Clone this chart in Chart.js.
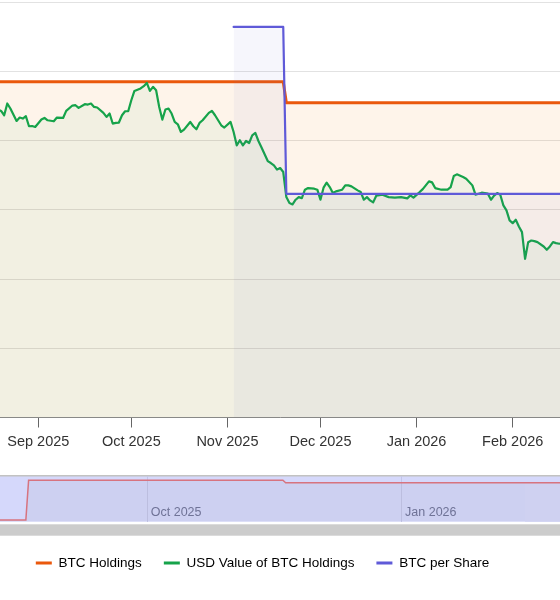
<!DOCTYPE html>
<html>
<head>
    <title>BTC Holdings</title>
    <style>
        body {
            margin: 0;
            background-color: #fff;
            font-family: 'Liberation Sans', Arial, sans-serif;
        }

        #page {
            position: relative;
            width: 560px;
            height: 600px;
            overflow: hidden;
        }

        #main-container {
            position: absolute;
            left: 0;
            top: 0;
            width: 560px;
            height: 460px;
        }

        #nav-container {
            position: absolute;
            left: 0;
            top: 468px;
            width: 560px;
            height: 132px;
        }
    </style>
</head>
<body>
    <div id="page">
        <div id="main-container"><canvas id="mainChart"></canvas></div>
        <div id="nav-container"><canvas id="navChart"></canvas></div>
    </div>

    <script src="https://cdn.jsdelivr.net/npm/chart.js@4"></script>
    <script>
const monthTicks = ['2025-09-01', '2025-10-01', '2025-11-01', '2025-12-01', '2026-01-01', '2026-02-01'];
const monthLabels = ['Sep 2025', 'Oct 2025', 'Nov 2025', 'Dec 2025', 'Jan 2026', 'Feb 2026'];
const navTicks = ['2025-10-01', '2026-01-01'];
const navLabels = ['Oct 2025', 'Jan 2026'];

const seriesNames = ['BTC Holdings', 'USD Value of BTC Holdings', 'BTC per Share'];

// BTC held by the treasury
const holdingDates = ['2025-08-01', '2025-08-18', '2025-08-19', '2025-11-19', '2025-11-20', '2026-02-28'];
const holdingValues = [0, 0, 4847, 4847, 4546, 4546];

// USD value of the holdings, millions
const usdDates = [
  '2025-08-19', '2025-08-20', '2025-08-21', '2025-08-22', '2025-08-23', '2025-08-25', '2025-08-26', '2025-08-27',
  '2025-08-28', '2025-08-29', '2025-08-30', '2025-08-31',
  '2025-09-02', '2025-09-03', '2025-09-04', '2025-09-06', '2025-09-07', '2025-09-09', '2025-09-10', '2025-09-12',
  '2025-09-13', '2025-09-14', '2025-09-16', '2025-09-17', '2025-09-18', '2025-09-19', '2025-09-20', '2025-09-22',
  '2025-09-23', '2025-09-24', '2025-09-25', '2025-09-26', '2025-09-27', '2025-09-28', '2025-09-29', '2025-09-30',
  '2025-10-01', '2025-10-02', '2025-10-04', '2025-10-05', '2025-10-06', '2025-10-07', '2025-10-08', '2025-10-09',
  '2025-10-10', '2025-10-11', '2025-10-12', '2025-10-13', '2025-10-14', '2025-10-15', '2025-10-16', '2025-10-17',
  '2025-10-18', '2025-10-20', '2025-10-21', '2025-10-22', '2025-10-23', '2025-10-24', '2025-10-26', '2025-10-27',
  '2025-10-28', '2025-10-30', '2025-10-31',
  '2025-11-02', '2025-11-03', '2025-11-04', '2025-11-05', '2025-11-06', '2025-11-07', '2025-11-08', '2025-11-09',
  '2025-11-10', '2025-11-11', '2025-11-12', '2025-11-14', '2025-11-15', '2025-11-16', '2025-11-17', '2025-11-18',
  '2025-11-19', '2025-11-20', '2025-11-21', '2025-11-22', '2025-11-23', '2025-11-24', '2025-11-25', '2025-11-26',
  '2025-11-27', '2025-11-29', '2025-11-30',
  '2025-12-01', '2025-12-02', '2025-12-03', '2025-12-04', '2025-12-05', '2025-12-06', '2025-12-08', '2025-12-09',
  '2025-12-10', '2025-12-11', '2025-12-12', '2025-12-13', '2025-12-14', '2025-12-15', '2025-12-16', '2025-12-17',
  '2025-12-18', '2025-12-19', '2025-12-21', '2025-12-23', '2025-12-25', '2025-12-27', '2025-12-29', '2025-12-30',
  '2025-12-31',
  '2026-01-02', '2026-01-03', '2026-01-05', '2026-01-06', '2026-01-07', '2026-01-09', '2026-01-11', '2026-01-12',
  '2026-01-13', '2026-01-14', '2026-01-16', '2026-01-17', '2026-01-19', '2026-01-20', '2026-01-22', '2026-01-23',
  '2026-01-24', '2026-01-25', '2026-01-26', '2026-01-27', '2026-01-28', '2026-01-29', '2026-01-30', '2026-01-31',
  '2026-02-01', '2026-02-02', '2026-02-03', '2026-02-04', '2026-02-05', '2026-02-06', '2026-02-07', '2026-02-08',
  '2026-02-09', '2026-02-11', '2026-02-12', '2026-02-13', '2026-02-14', '2026-02-15', '2026-02-16', '2026-02-17'
];
const usdValues = [
  556.0, 553.4, 545.6, 566.8, 557.7, 535.3, 541.4, 539.6,
  543.8, 525.7, 526.2, 524.4,
  537.8, 540.7, 536.5, 534.7, 541.4, 540.7, 553.4, 563.1,
  563.7, 558.8, 565.5, 564.9, 566.8, 560.6, 559.5, 549.8,
  542.5, 548.7, 530.6, 531.7, 532.4, 545.6, 552.8, 552.8,
  572.7, 589.5, 593.9, 598.0, 604.0, 589.5, 596.8, 590.8,
  560.6, 537.8, 555.9, 557.7, 548.7, 533.5, 529.3, 515.4,
  519.7, 533.5, 525.7, 520.3, 531.7, 536.5, 549.8, 553.4,
  545.6, 527.5, 523.4,
  533.5, 515.4, 491.3, 500.4, 491.3, 499.1, 495.5, 509.4,
  513.6, 499.1, 487.2, 462.9, 459.3, 455.2, 447.4, 450.3,
  443.1, 397.8, 387.0, 384.6, 393.1, 397.8, 396.0, 411.2,
  414.1, 413.0, 411.2,
  393.1, 414.8, 423.9, 415.9, 405.1, 408.2, 411.2, 419.0,
  419.0, 417.2, 413.6, 410.0, 406.9, 393.1, 397.8, 391.9,
  388.3, 400.4, 402.2, 397.8, 396.8, 397.8, 395.5, 400.9,
  396.8,
  406.9, 412.3, 426.2, 424.4, 414.1, 411.2, 411.2, 415.9,
  435.8, 438.9, 434.0, 431.1, 419.0, 402.2, 405.8, 405.1,
  404.0, 393.1, 400.4, 405.1, 402.2, 382.8, 373.8, 355.7,
  350.8, 357.0, 344.9, 334.6, 286.4, 316.5, 319.5, 318.3,
  316.5, 308.7, 302.7, 308.7, 316.5, 314.7, 313.6, 314.1
];

// BTC per share
const perShareDates = ['2025-11-03', '2025-11-19', '2025-11-20', '2026-02-28'];
const perShareValues = [0.000564, 0.000564, 0.000323, 0.000323];

function dayNumber(dateString) {
  const parts = dateString.split('-').map(Number);
  return (Date.UTC(parts[0], parts[1] - 1, parts[2]) - Date.UTC(2025, 8, 1)) / 86400000;
}

function toPoints(dates, values) {
  return dates.map((d, i) => ({ x: dayNumber(d), y: values[i] }));
}

function tickLabel(ticks, labels, value) {
  const i = ticks.map(dayNumber).indexOf(value);
  return i >= 0 ? labels[i] : '';
}

const fontFamily = "'Liberation Sans', Arial, sans-serif";

new Chart(document.getElementById('mainChart'), {
  type: 'line',
  data: {
    datasets: [
      {
        label: seriesNames[2],
        data: toPoints(perShareDates, perShareValues),
        yAxisID: 'yPerShare',
        borderColor: '#5f5ad8',
        backgroundColor: 'rgba(88, 100, 205, 0.055)',
        borderWidth: 2.2,
        fill: 'start',
        order: 1
      },
      {
        label: seriesNames[1],
        data: toPoints(usdDates, usdValues),
        yAxisID: 'yUsd',
        borderColor: '#16a34a',
        backgroundColor: 'rgba(22, 163, 74, 0.05)',
        borderWidth: 2.2,
        fill: 'start',
        order: 2
      },
      {
        label: seriesNames[0],
        data: toPoints(holdingDates, holdingValues),
        yAxisID: 'yBtc',
        borderColor: '#ea580c',
        backgroundColor: 'rgba(240, 130, 12, 0.085)',
        borderWidth: 3,
        fill: 'start',
        order: 3
      }
    ]
  },
  options: {
    animation: false,
    responsive: true,
    maintainAspectRatio: false,
    layout: { padding: { top: 2, left: 0, right: 0, bottom: 3.9 } },
    elements: {
      point: { radius: 0, hoverRadius: 0 },
      line: { tension: 0, borderJoinStyle: 'round', borderCapStyle: 'round' }
    },
    scales: {
      x: {
        type: 'linear',
        min: -12.35,
        max: 168.26,
        afterBuildTicks: (scale) => {
          scale.ticks = monthTicks.map(d => ({ value: dayNumber(d) }));
        },
        grid: { drawOnChartArea: false, drawTicks: true, tickLength: 10, color: '#666' },
        border: { display: true, color: '#8a8a8a' },
        ticks: {
          autoSkip: false,
          maxRotation: 0,
          padding: 5.6,
          color: '#333',
          font: { family: fontFamily, size: 14.5 },
          callback: (value) => tickLabel(monthTicks, monthLabels, value)
        }
      },
      yBtc: {
        position: 'left',
        min: 0,
        max: 6000,
        ticks: { display: false, stepSize: 1000 },
        grid: { color: '#e2e2e2', drawTicks: false },
        border: { display: false }
      },
      yUsd: { display: false, min: 0, max: 750 },
      yPerShare: { display: false, min: 0, max: 0.0006 }
    },
    plugins: {
      legend: { display: false },
      tooltip: { enabled: false }
    }
  }
});

// navigator band, its top border, the tint under the series past the plot edge, and the scrollbar
const navigatorBackground = {
  id: 'navigatorBackground',
  beforeDraw(chart) {
    const { ctx, chartArea, width } = chart;
    const lineY = chart.scales.y.getPixelForValue(holdingValues[holdingValues.length - 1]);
    ctx.save();
    ctx.fillStyle = '#d5d8fb';
    ctx.fillRect(0, chartArea.top, width, chartArea.bottom - chartArea.top);
    ctx.fillStyle = '#cfd1f1';
    ctx.fillRect(chartArea.right, lineY, width - chartArea.right, chartArea.bottom - lineY);
    ctx.fillStyle = '#c2c2c2';
    ctx.fillRect(0, chartArea.top - 1, width, 1.5);
    ctx.fillStyle = '#cccccc';
    ctx.fillRect(0, chartArea.bottom + 2.6, width, 11.4);
    ctx.restore();
  }
};

const legendColors = ['#ea580c', '#16a34a', '#5f5ad8'];

new Chart(document.getElementById('navChart'), {
  type: 'line',
  data: {
    datasets: [{
      data: toPoints(holdingDates, holdingValues),
      borderColor: '#d7737f',
      backgroundColor: 'rgba(120, 110, 125, 0.08)',
      borderWidth: 1.5,
      fill: 'start',
      clip: false,
      pointRadius: 0,
      tension: 0
    }]
  },
  options: {
    animation: false,
    responsive: true,
    maintainAspectRatio: false,
    layout: { padding: { top: 8, left: 0, right: 35, bottom: 20.25 } },
    scales: {
      x: {
        type: 'linear',
        min: -23.35,
        max: 166.59,
        afterBuildTicks: (scale) => {
          scale.ticks = navTicks.map(d => ({ value: dayNumber(d) }));
        },
        afterFit: (scale) => {
          scale.height = 12.55;
        },
        grid: { color: '#c3c5e8', drawTicks: false },
        border: { display: false },
        ticks: {
          autoSkip: false,
          maxRotation: 0,
          align: 'start',
          mirror: true,
          padding: 1.9,
          labelOffset: 3.3,
          color: '#6f7399',
          font: { family: fontFamily, size: 12.5 },
          callback: (value) => tickLabel(navTicks, navLabels, value)
        }
      },
      y: { display: false, min: -207.5, max: 5371 }
    },
    plugins: {
      tooltip: { enabled: false },
      legend: {
        display: true,
        position: 'bottom',
        labels: {
          boxWidth: 16,
          boxHeight: 3,
          padding: 22,
          color: '#333',
          font: { family: fontFamily, size: 13.5 },
          generateLabels: () => seriesNames.map((name, i) => ({
            text: name,
            fillStyle: legendColors[i],
            strokeStyle: legendColors[i],
            lineWidth: 0,
            hidden: false,
            datasetIndex: 0
          }))
        }
      }
    }
  },
  plugins: [navigatorBackground]
});
    </script>
</body>
</html>
